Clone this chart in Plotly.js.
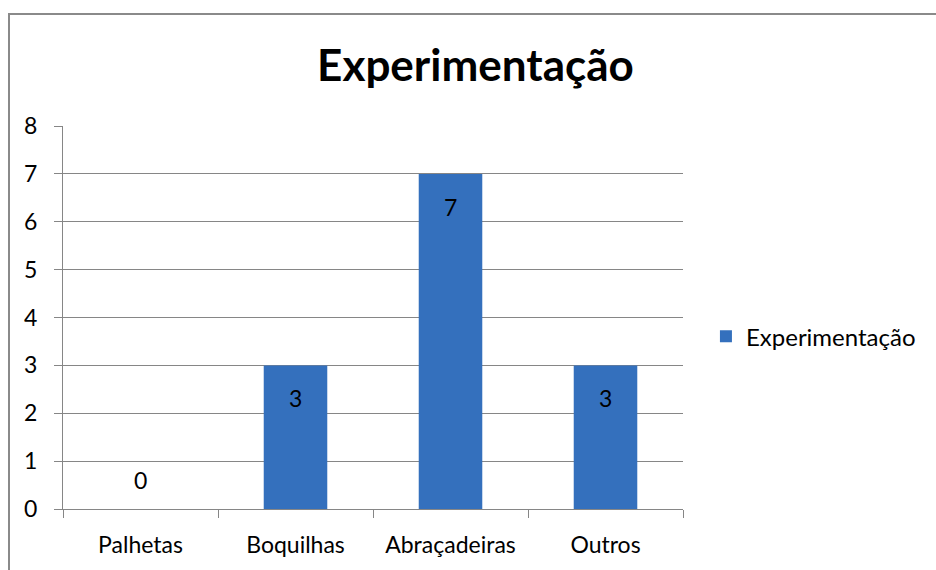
<!DOCTYPE html>
<html>
<head>
<meta charset="utf-8">
<script src="https://cdn.plot.ly/plotly-3.0.1.min.js"></script>
<style>
  html, body { margin: 0; padding: 0; background: #fff; }
  #wrap { position: relative; width: 936px; height: 570px; }
  #chart { width: 936px; height: 570px; }
  #frame { position: absolute; left: 8px; top: 13px; right: -4px; bottom: -4px;
           border-left: 2px solid #8a8a8a; border-top: 2px solid #8a8a8a; pointer-events: none; }
</style>
</head>
<body>
<div id="wrap">
  <div id="chart"></div>
  <div id="frame"></div>
</div>
<script>
const categories = ["Palhetas", "Boquilhas", "Abraçadeiras", "Outros"];
const values = [0, 3, 7, 3];
const seriesName = "Experimentação";
const chartTitle = "Experimentação";
const yTicks = [0, 1, 2, 3, 4, 5, 6, 7, 8];

const FONT = "Lato, 'Open Sans', sans-serif";
const gridColor = "#868686";
const FS = 23;

const trace = {
  type: "bar",
  x: categories,
  y: values,
  name: seriesName,
  marker: { color: "#3470bd", line: { width: 0 } },
  width: 0.41,
  hoverinfo: "x+y"
};

const annotations = categories.map((c, i) => {
  const v = values[i];
  return {
    x: c, y: v, xref: "x", yref: "y",
    text: String(v), showarrow: false,
    font: { family: FONT, size: FS, color: "#000" },
    yanchor: v > 0 ? "top" : "bottom",
    yshift: v > 0 ? -17 : 13
  };
});

const layout = {
  width: 936, height: 570,
  margin: { l: 63, r: 253, t: 126, b: 61 },
  paper_bgcolor: "#fff", plot_bgcolor: "#fff",
  font: { family: FONT, size: FS, color: "#000" },
  title: {
    text: "<b>" + chartTitle + "</b>",
    font: { family: FONT, size: 44, color: "#000" },
    x: 475.5 / 936, xanchor: "center", xref: "container",
    y: 1 - 66 / 570, yanchor: "middle", yref: "container"
  },
  xaxis: {
    type: "category",
    showgrid: false,
    showline: true, linecolor: gridColor, linewidth: 1,
    ticks: "outside", ticklen: 8, tickcolor: gridColor, tickwidth: 1,
    tickson: "boundaries",
    ticklabelstandoff: 15,
    tickfont: { family: FONT, size: FS, color: "#000" },
    fixedrange: true
  },
  yaxis: {
    range: [0, 8],
    tickvals: yTicks,
    showgrid: true, gridcolor: gridColor, gridwidth: 1,
    zeroline: false,
    showline: true, linecolor: gridColor, linewidth: 1,
    ticks: "outside", ticklen: 8, tickcolor: gridColor, tickwidth: 1,
    ticklabelstandoff: 12,
    tickfont: { family: FONT, size: FS, color: "#000" },
    fixedrange: true
  },
  showlegend: true,
  legend: {
    x: 1.037, xanchor: "left", y: 0.45, yanchor: "middle",
    font: { family: FONT, size: 24, color: "#000" },
    bgcolor: "rgba(0,0,0,0)"
  },
  annotations: annotations,
  bargap: 0.59
};

Plotly.newPlot("chart", [trace], layout, { displayModeBar: false, staticPlot: true });
</script>
</body>
</html>
